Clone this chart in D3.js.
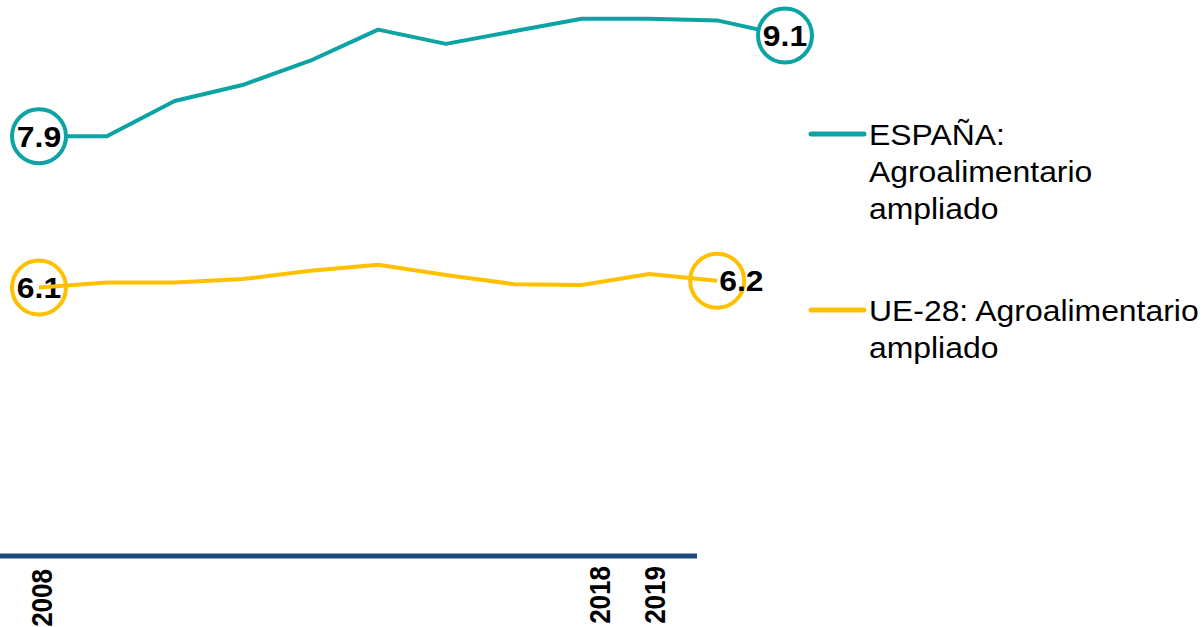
<!DOCTYPE html>
<html>
<head>
<meta charset="utf-8">
<script src="https://cdn.jsdelivr.net/npm/d3@7"></script>
<style>
  html, body { margin: 0; padding: 0; background: #fff; }
  svg { display: block; font-family: "Liberation Sans", Arial, sans-serif; }
</style>
</head>
<body>
<svg id="chart" width="1204" height="627"></svg>
<script>
// ---- data ----
const years = [2008, 2009, 2010, 2011, 2012, 2013, 2014, 2015, 2016, 2017, 2018, 2019];
const espana = [7.9, 7.9, 8.32, 8.51, 8.8, 9.17, 9.0, 9.15, 9.3, 9.3, 9.28, 9.1];
const ue28 = [6.1, 6.16, 6.16, 6.2, 6.3, 6.37, 6.25, 6.14, 6.13, 6.26, 6.18, null];
const tickYears = [2008, 2018, 2019];
const seriesNames = [["ESPAÑA:", "Agroalimentario", "ampliado"], ["UE-28: Agroalimentario", "ampliado"]];
const labelIdxEspana = [0, 11];
const labelIdxUe = [0, 10];

// ---- setup ----
const teal = "#0BA3A3", yellow = "#FFC000", navy = "#1F4A7C";
const svg = d3.select("#chart");
const sx = 1.1; // horizontal text stretch seen in reference

const x = d3.scalePoint().domain(years).range([39, 785]);
const y = d3.scaleLinear().domain([3, 9.5]).range([547.9, 1.9]);
const xAxisScale = d3.scaleLinear().domain([2008, 2019]).range([42, 655]);

const fmt = d3.format(".1f");
const line = d3.line()
  .defined(d => d.v != null)
  .x(d => x(d.year)).y(d => y(d.v));

const espData = years.map((yr, i) => ({year: yr, v: espana[i]}));
const ueData = years.map((yr, i) => ({year: yr, v: ue28[i]}));

// axis line
svg.append("line")
  .attr("x1", 0).attr("x2", 697)
  .attr("y1", 556).attr("y2", 556)
  .attr("stroke", navy).attr("stroke-width", 5);

// axis tick labels
const axisG = svg.append("g");
axisG.selectAll("text").data(tickYears).join("text")
  .attr("transform", d => `translate(${xAxisScale(d)},${d === 2008 ? 569 : 566}) scale(${sx},1) rotate(-90)`)
  .attr("text-anchor", "end")
  .attr("dy", "0.36em")
  .attr("font-size", 26).attr("font-weight", "bold").attr("fill", "#000")
  .text(d => d);

// ESPAÑA series
svg.append("path").datum(espData)
  .attr("d", line).attr("fill", "none")
  .attr("stroke", teal).attr("stroke-width", 4).attr("stroke-linejoin", "round");
const espLab = labelIdxEspana.map(i => espData[i]);
svg.append("g").selectAll("circle").data(espLab).join("circle")
  .attr("cx", d => x(d.year)).attr("cy", d => y(d.v)).attr("r", 27)
  .attr("fill", "#fff").attr("stroke", teal).attr("stroke-width", 4);
svg.append("g").selectAll("text").data(espLab).join("text")
  .attr("transform", d => `translate(${x(d.year)},${y(d.v)}) scale(${sx},1)`)
  .attr("text-anchor", "middle").attr("dy", "0.36em")
  .attr("font-size", 29).attr("font-weight", "bold").attr("fill", "#000")
  .text(d => fmt(d.v));

// UE-28 series
const ueLab = labelIdxUe.map(i => ueData[i]);
svg.append("g").selectAll("circle").data(ueLab).join("circle")
  .attr("cx", d => x(d.year)).attr("cy", d => y(d.v)).attr("r", 27)
  .attr("fill", "none").attr("stroke", yellow).attr("stroke-width", 4);
svg.append("g").selectAll("text").data(ueLab).join("text")
  .attr("transform", (d, i) => `translate(${x(d.year) + (i === 0 ? 0 : 2)},${y(d.v)}) scale(${sx},1)`)
  .attr("text-anchor", (d, i) => i === 0 ? "middle" : "start").attr("dy", "0.36em")
  .attr("font-size", 29).attr("font-weight", "bold").attr("fill", "#000")
  .text(d => fmt(d.v));
svg.append("path").datum(ueData)
  .attr("d", line).attr("fill", "none")
  .attr("stroke", yellow).attr("stroke-width", 4).attr("stroke-linejoin", "round");

// legend
const legColors = [teal, yellow];
const legY = [134, 310];
const leg = svg.append("g");
seriesNames.forEach((lines, k) => {
  leg.append("line")
    .attr("x1", 811).attr("x2", 864).attr("y1", legY[k]).attr("y2", legY[k])
    .attr("stroke", legColors[k]).attr("stroke-width", 5).attr("stroke-linecap", "round");
  lines.forEach((t, j) => {
    leg.append("text")
      .attr("transform", `translate(869,${legY[k] + 11 + j * 37}) scale(${sx},1)`)
      .attr("font-size", 29).attr("fill", "#000")
      .text(t);
  });
});
</script>
</body>
</html>
